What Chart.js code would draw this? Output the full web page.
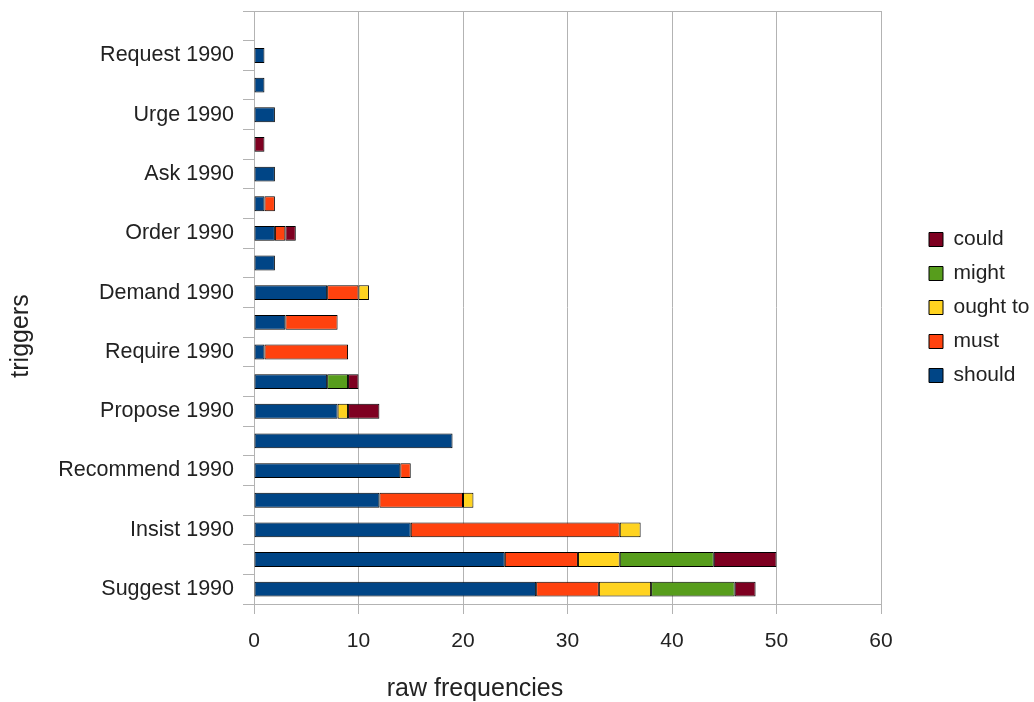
<!DOCTYPE html>
<html>
<head>
<meta charset="utf-8">
<title>triggers</title>
<script src="https://cdn.jsdelivr.net/npm/chart.js@4.4.1/dist/chart.umd.min.js"></script>
<style>
  html, body { margin: 0; padding: 0; background: #fff; }
  #box { width: 1034px; height: 702px; }
</style>
</head>
<body>
<div id="box"><canvas id="grafico"></canvas></div>
<script>
// categories, top to bottom (the unlabeled rows have no visible label in the original)
const categorias = ['', 'Request 1990', '', 'Urge 1990', '', 'Ask 1990', '', 'Order 1990', '', 'Demand 1990',
    '', 'Require 1990', '', 'Propose 1990', '', 'Recommend 1990', '', 'Insist 1990', '', 'Suggest 1990'];

// raw frequencies per modal
const should  = [0, 1, 1, 2, 0, 2, 1, 2, 2, 7, 3, 1, 7, 8, 19, 14, 12, 15, 24, 27];
const must    = [0, 0, 0, 0, 0, 0, 1, 1, 0, 3, 5, 8, 0, 0, 0, 1, 8, 20, 7, 6];
const oughtTo = [0, 0, 0, 0, 0, 0, 0, 0, 0, 1, 0, 0, 0, 1, 0, 0, 1, 2, 4, 5];
const might   = [0, 0, 0, 0, 0, 0, 0, 0, 0, 0, 0, 0, 2, 0, 0, 0, 0, 0, 9, 8];
const could   = [0, 0, 0, 0, 1, 0, 0, 1, 0, 0, 0, 0, 1, 3, 0, 0, 0, 0, 6, 2];

const xTicks = [0, 10, 20, 30, 40, 50, 60];

const cinza = '#b3b3b3';
const texto = '#222';
const fonte = 'Liberation Sans, Arial, sans-serif';

function serie(label, data, cor) {
    return {
        label: label,
        data: data,
        backgroundColor: cor,
        borderColor: '#000',
        borderWidth: 1,
        borderSkipped: false,
        categoryPercentage: 1.0,
        barPercentage: 0.5
    };
}

// axis titles are centred on the whole diagram, not on the plot area, so draw them here
const titulosEixos = {
    id: 'titulosEixos',
    afterDraw(chart) {
        const c = chart.ctx;
        c.save();
        c.fillStyle = texto;
        c.font = '25px ' + fonte;
        c.textAlign = 'center';
        c.textBaseline = 'middle';
        c.fillText('raw frequencies', 475, 689);
        c.translate(21, 336);
        c.rotate(-Math.PI / 2);
        c.fillText('triggers', 0, 0);
        c.restore();
    }
};

const ctx = document.getElementById('grafico').getContext('2d');
const grafico = new Chart(ctx, {
    type: 'bar',
    data: {
        labels: categorias,
        datasets: [
            serie('should', should, '#004586'),
            serie('must', must, '#ff420e'),
            serie('ought to', oughtTo, '#ffd320'),
            serie('might', might, '#579d1c'),
            serie('could', could, '#7e0021')
        ]
    },
    options: {
        indexAxis: 'y',
        responsive: true,
        maintainAspectRatio: false,
        animation: false,
        events: [],
        layout: { padding: { top: 11, left: 0, right: 0, bottom: 0 } },
        plugins: {
            tooltip: { enabled: false },
            legend: {
                position: 'right',
                fullSize: false,
                reverse: true,
                maxWidth: 118,
                labels: {
                    boxWidth: 14,
                    boxHeight: 14,
                    padding: 13,
                    color: texto,
                    font: { family: fonte, size: 21 }
                }
            }
        },
        scales: {
            x: {
                stacked: true,
                min: xTicks[0],
                max: xTicks[xTicks.length - 1],
                afterFit: (s) => { s.height = 98; },
                ticks: { stepSize: 10, padding: 15, color: texto, font: { family: fonte, size: 21 } },
                grid: { color: cinza, tickColor: cinza, tickLength: 10 },
                border: { color: cinza }
            },
            y: {
                stacked: true,
                afterFit: (s) => {
                    s.width = 254;
                    // labels sit inside the categories, no extra room needed above/below
                    s.paddingTop = 0;
                    s.paddingBottom = 0;
                },
                ticks: { autoSkip: false, padding: 9, color: texto, font: { family: fonte, size: 21.5 } },
                grid: {
                    // only the top frame line is drawn across the plot, the rest are just tick marks
                    color: (c) => c.index === 0 ? cinza : 'rgba(0,0,0,0)',
                    tickColor: cinza,
                    tickLength: 11
                },
                border: { color: cinza }
            },
            // empty axis, only keeps the gap between plot and legend
            gap: {
                type: 'linear',
                position: 'right',
                display: true,
                afterFit: (s) => {
                    s.width = 35;
                    s.paddingTop = 0;
                    s.paddingBottom = 0;
                },
                ticks: { display: false },
                grid: { display: false },
                border: { display: false }
            }
        }
    },
    plugins: [titulosEixos]
});
</script>
</body>
</html>
